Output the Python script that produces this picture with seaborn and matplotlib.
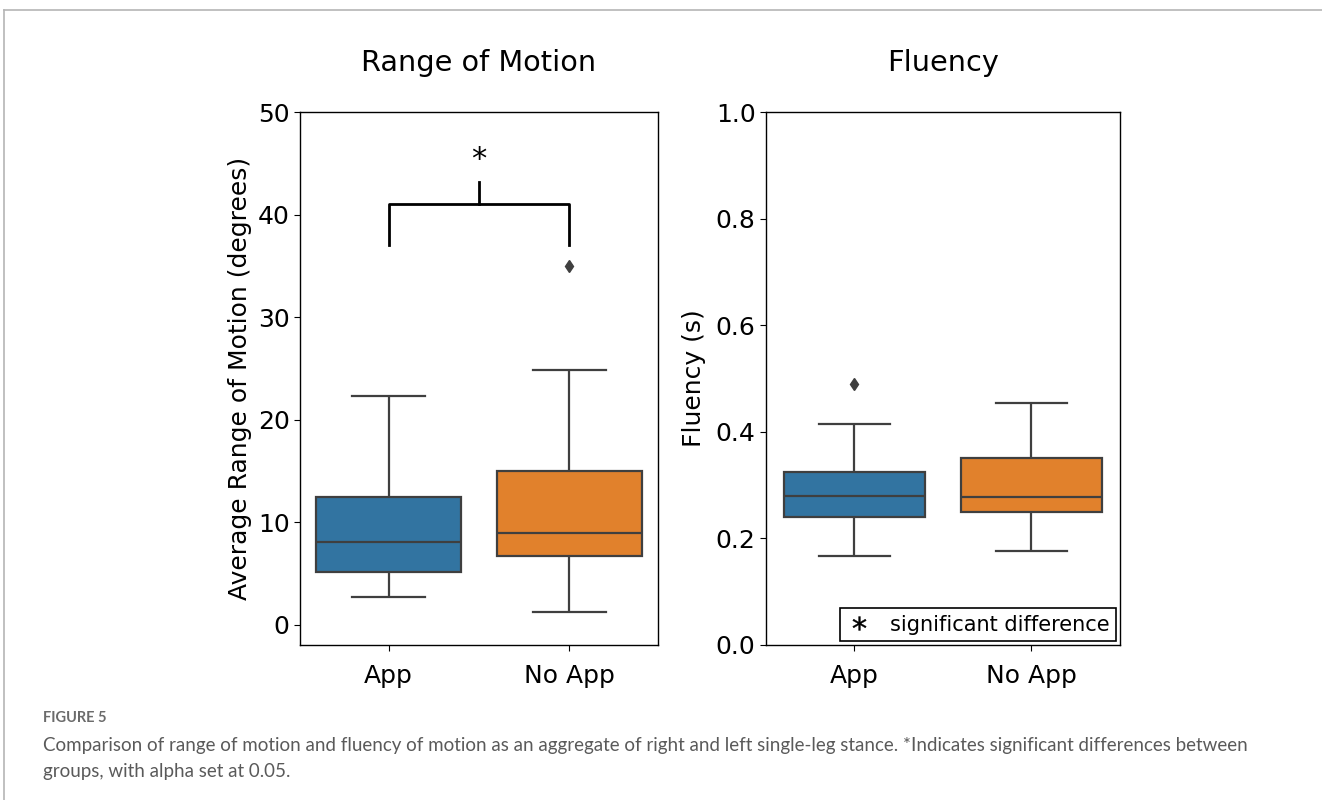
import matplotlib
matplotlib.use("Agg")
import matplotlib.pyplot as plt
from matplotlib.lines import Line2D
import seaborn as sns
import pandas as pd

# ---- data ----
groups = ["App", "No App"]
rom_app = [2.7, 4.0, 5.1, 6.5, 8.1, 10.0, 12.4, 16.0, 22.3]
rom_noapp = [1.2, 4.5, 6.7, 7.8, 8.9, 11.5, 15.0, 24.8, 35.0]
flu_app = [0.167, 0.21, 0.240, 0.26, 0.280, 0.30, 0.325, 0.415, 0.490]
flu_noapp = [0.176, 0.22, 0.250, 0.265, 0.278, 0.31, 0.351, 0.40, 0.454]
rom_yticks = [0, 10, 20, 30, 40, 50]
flu_yticks = [0.0, 0.2, 0.4, 0.6, 0.8, 1.0]

df_rom = pd.DataFrame({"group": [groups[0]] * len(rom_app) + [groups[1]] * len(rom_noapp),
                       "value": rom_app + rom_noapp})
df_flu = pd.DataFrame({"group": [groups[0]] * len(flu_app) + [groups[1]] * len(flu_noapp),
                       "value": flu_app + flu_noapp})

fig = plt.figure(figsize=(13.22, 8.0), dpi=100)
ax1 = fig.add_axes([0.2269, 0.19375, 0.2708, 0.666])
ax2 = fig.add_axes([0.5794, 0.19375, 0.2678, 0.666])

flier = dict(marker="d", markerfacecolor="#3f3f3f", markeredgecolor="#3f3f3f", markersize=6)
common = dict(x="group", y="value", hue="group", order=groups, hue_order=groups,
              palette="tab10", saturation=0.75, linecolor="#3f3f3f", linewidth=1.6,
              flierprops=flier, legend=False, width=0.8)

sns.boxplot(data=df_rom, ax=ax1, **common)
sns.boxplot(data=df_flu, ax=ax2, **common)

for ax in (ax1, ax2):
    for s in ax.spines.values():
        s.set_color("black")
        s.set_linewidth(1.0)
    ax.tick_params(labelsize=18, length=4)
    ax.tick_params(axis="x", pad=10)
    ax.set_xlabel("")

ax1.set_ylim(-2, 50)
ax1.set_yticks(rom_yticks)
ax1.set_ylabel("Average Range of Motion (degrees)", fontsize=18)
ax1.set_title("Range of Motion", fontsize=20.7, pad=30)

ax2.set_ylim(0, 1.0)
ax2.set_yticks(flu_yticks)
ax2.set_ylabel("Fluency (s)", fontsize=18, labelpad=7)
ax2.set_title("Fluency", fontsize=20.7, pad=30)

# significance bracket
ax1.plot([0, 0, 1, 1], [37, 41, 41, 37], color="black", lw=2)
ax1.plot([0.5, 0.5], [41, 43.2], color="black", lw=2)
ax1.text(0.5, 45.4, "*", ha="center", va="center", fontsize=22)

# legend
h = Line2D([], [], marker="$*$", linestyle="", color="black", markersize=10,
           markeredgewidth=0.3)
leg = ax2.legend([h], ["significant difference"], loc="lower right", fontsize=15,
                 fancybox=False, framealpha=1, edgecolor="black",
                 borderaxespad=0.2, handlelength=1.2, handletextpad=0.9, borderpad=0.3)
leg.get_frame().set_linewidth(1.2)

# page frame
fig.add_artist(Line2D([0.003, 1.0], [1 - 10 / 800, 1 - 10 / 800], transform=fig.transFigure,
                      color="#b5b5b5", lw=1.2))
fig.add_artist(Line2D([0.003, 0.003], [0, 1 - 10 / 800], transform=fig.transFigure,
                      color="#b5b5b5", lw=1.2))

# caption
fig.text(43 / 1322, 1 - 718 / 800, "FIGURE 5", fontsize=10.5, color="#6b6b6b",
         family="Lato", fontweight="bold", va="center")
fig.text(43 / 1322, 1 - 745 / 800,
         "Comparison of range of motion and fluency of motion as an aggregate of right and left single-leg stance. "
         "*Indicates significant differences between",
         fontsize=13.5, color="#5a5a5a", family="Lato", va="center")
fig.text(43 / 1322, 1 - 771 / 800, "groups, with alpha set at 0.05.",
         fontsize=13.5, color="#5a5a5a", family="Lato", va="center")

fig.savefig("out.png", dpi=100)
